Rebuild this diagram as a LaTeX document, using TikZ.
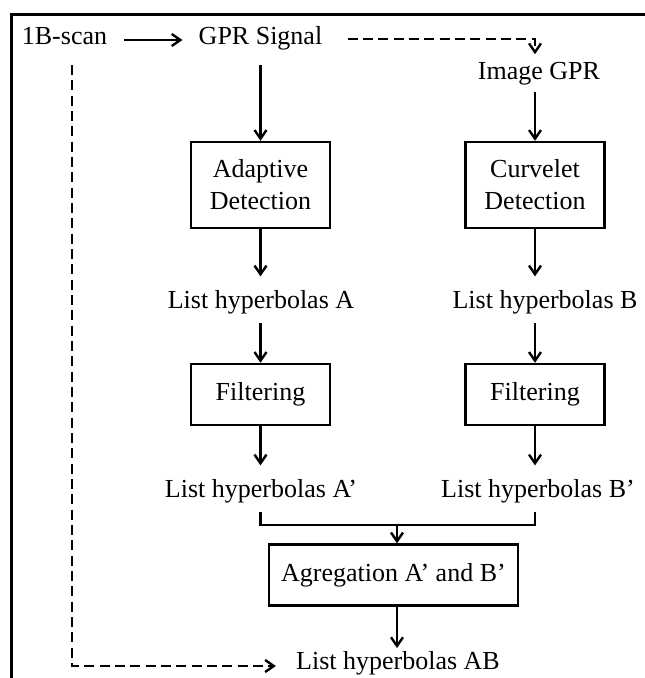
\documentclass[tikz,border=0pt]{standalone}
\usepackage{fontspec}
\setmainfont{Liberation Serif}
\usetikzlibrary{arrows.meta,calc}
\begin{document}
\begin{tikzpicture}[x=0.75pt,y=-0.75pt,
  font=\fontsize{19.5}{24}\selectfont,
  lbl/.style={inner sep=0pt, anchor=base},
  proc/.style={draw, line width=1.8pt, inner sep=0pt, minimum width=104.25pt, align=center},
  ln/.style={line width=1.8pt},
  arr/.style={ln, -{Straight Barb[length=6.5pt,width=9pt]}},
  dsh/.style={arr, dash pattern=on 7.5pt off 4pt},
]
\useasboundingbox (0,0) rectangle (645,678);
\draw[line width=2.25pt] (11.5,678) -- (11.5,14) -- (645,14);

\node[lbl] (scan) at (64.5,44) {1B-scan};
\node[lbl] (sig) at (260.5,44) {GPR Signal};
\node[lbl] (img) at (539,79) {Image GPR};
\node[proc, minimum height=64.5pt] (ad) at (260.5,185) {Adaptive\\Detection};
\node[proc, minimum height=64.5pt] (cu) at (535,185) {Curvelet\\Detection};
\node[lbl] (la) at (261,308) {List hyperbolas A};
\node[lbl] (lb) at (545,308) {List hyperbolas B};
\node[proc, minimum height=45.75pt] (fa) at (260.5,394.5) {Filtering};
\node[proc, minimum height=45.75pt] (fb) at (535,394.5) {Filtering};
\node[lbl] (lap) at (261,497) {List hyperbolas A’};
\node[lbl] (lbp) at (538,497) {List hyperbolas B’};
\node[proc, minimum width=186.75pt, minimum height=45.75pt] (ag) at (393.5,575) {Agregation A’ and B’};
\node[lbl] (lab) at (398,669) {List hyperbolas AB};
\coordinate (bj) at (397,525);

\draw[arr] ($(scan.base east)+(17,-4)$) -- ($(sig.base west)+(-16,-4)$);
\draw[arr, shorten <=11.5pt] (sig.south -| ad.north) -- (ad.north);
\draw[arr, shorten <=5pt] (img.south -| cu.north) -- (cu.north);
\draw[arr, shorten >=10pt] (ad.south) -- (la.north -| ad.south);
\draw[arr, shorten >=10pt] (cu.south) -- (lb.north -| cu.south);
\draw[arr, shorten <=7pt] (la.south -| fa.north) -- (fa.north);
\draw[arr, shorten <=7pt] (lb.south -| fb.north) -- (fb.north);
\draw[arr, shorten >=10pt] (fa.south) -- (lap.north -| fa.south);
\draw[arr, shorten >=10pt] (fb.south) -- (lbp.north -| fb.south);
\draw[ln] ($(lap.south -| fa.south)+(0,9.5)$) |- (bj) -| ($(lbp.south -| fb.south)+(0,9.5)$);
\draw[arr] (bj) -- (bj |- ag.north);
\draw[arr, shorten >=2pt] (ag.south -| bj) -- (lab.north -| bj);

\draw[dsh, shorten >=5.5pt] ($(sig.base east)+(25,-5)$) -| (cu.north |- img.north);
\draw[dsh] ($(scan.base)+(7.5,21)$) |- ($(lab.base west)+(-20,-3)$);
\end{tikzpicture}
\end{document}
